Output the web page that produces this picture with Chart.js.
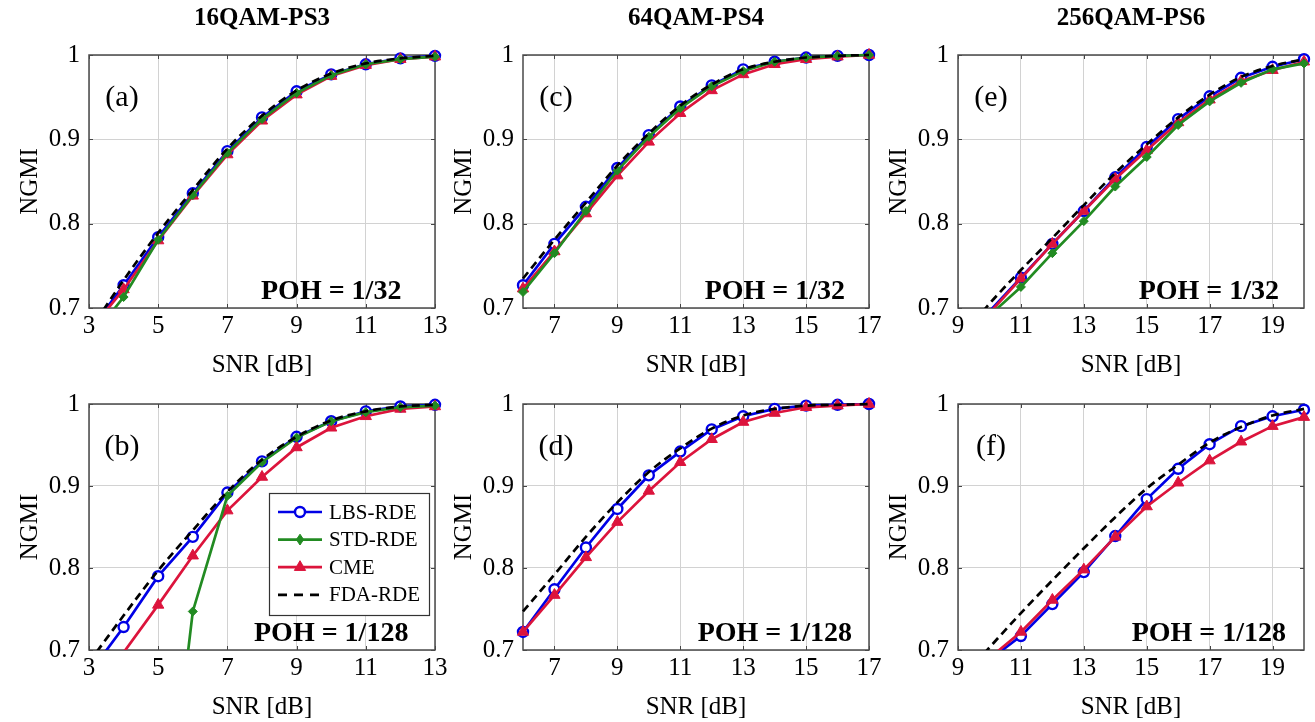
<!DOCTYPE html>
<html>
<head>
<meta charset="utf-8">
<script src="https://cdn.jsdelivr.net/npm/chart.js@4.4.1/dist/chart.umd.min.js"></script>
<style>
html,body{margin:0;padding:0;background:#fff;overflow:hidden;width:1315px;height:722px;}
canvas{position:absolute;}
</style>
</head>
<body>
<script>
// ---------------- DATA ----------------
const columnTitles = ['16QAM-PS3', '64QAM-PS4', '256QAM-PS6'];
const panelLabels = ['(a)', '(b)', '(c)', '(d)', '(e)', '(f)'];
const pohLabels = ['POH = 1/32', 'POH = 1/128'];
const seriesNames = ['LBS-RDE', 'STD-RDE', 'CME', 'FDA-RDE'];
const xAxisTitle = 'SNR [dB]';
const yAxisTitle = 'NGMI';
const yTicks = [0.7, 0.8, 0.9, 1];
const yTickLabels = ['0.7', '0.8', '0.9', '1'];
const xTicks16 = [3, 5, 7, 9, 11, 13];
const xTicks64 = [7, 9, 11, 13, 15, 17];
const xTicks256 = [9, 11, 13, 15, 17, 19];

const snr16 = [3, 4, 5, 6, 7, 8, 9, 10, 11, 12, 13];
const snr64 = [6, 7, 8, 9, 10, 11, 12, 13, 14, 15, 16, 17];
const snr256 = [9, 10, 11, 12, 13, 14, 15, 16, 17, 18, 19, 20];

// (a) 16QAM, POH 1/32
const lbsA = [0.672, 0.727, 0.784, 0.836, 0.886, 0.926, 0.957, 0.977, 0.989, 0.996, 0.999];
const stdA = [0.661, 0.713, 0.781, 0.834, 0.884, 0.924, 0.955, 0.976, 0.989, 0.995, 0.998];
const cmeA = [0.672, 0.722, 0.780, 0.833, 0.882, 0.922, 0.953, 0.975, 0.988, 0.995, 0.998];
const fdaA = [0.672, 0.733, 0.789, 0.840, 0.889, 0.928, 0.958, 0.978, 0.990, 0.996, 0.999];
// (b) 16QAM, POH 1/128
const lbsB = [0.671, 0.728, 0.790, 0.838, 0.892, 0.930, 0.960, 0.979, 0.991, 0.997, 0.999];
const stdB = [null, null, 0.390, 0.747, 0.888, 0.929, 0.959, 0.979, 0.990, 0.996, 0.998];
const cmeB = [0.630, 0.697, 0.755, 0.815, 0.870, 0.911, 0.947, 0.971, 0.985, 0.994, 0.997];
const fdaB = [0.685, 0.742, 0.797, 0.846, 0.893, 0.932, 0.960, 0.980, 0.991, 0.997, 0.999];
// (c) 64QAM, POH 1/32
const lbsC = [0.727, 0.776, 0.820, 0.866, 0.905, 0.939, 0.964, 0.983, 0.992, 0.997, 0.999, 1.000];
const stdC = [0.719, 0.765, 0.815, 0.863, 0.903, 0.937, 0.963, 0.981, 0.992, 0.997, 0.999, 1.000];
const cmeC = [0.723, 0.767, 0.812, 0.857, 0.897, 0.931, 0.958, 0.977, 0.989, 0.995, 0.998, 1.000];
const fdaC = [0.735, 0.781, 0.825, 0.869, 0.907, 0.940, 0.965, 0.983, 0.992, 0.997, 0.999, 1.000];
// (d) 64QAM, POH 1/128
const lbsD = [0.722, 0.774, 0.825, 0.872, 0.913, 0.942, 0.969, 0.985, 0.994, 0.998, 0.999, 1.000];
const cmeD = [0.722, 0.767, 0.813, 0.856, 0.894, 0.929, 0.957, 0.978, 0.989, 0.996, 0.998, 1.000];
const fdaD = [0.747, 0.792, 0.838, 0.880, 0.917, 0.946, 0.970, 0.986, 0.994, 0.998, 0.999, 1.000];
// (e) 256QAM, POH 1/32
const lbsE = [0.650, 0.696, 0.736, 0.776, 0.815, 0.855, 0.891, 0.924, 0.951, 0.973, 0.986, 0.995];
const stdE = [0.645, 0.691, 0.725, 0.765, 0.803, 0.844, 0.879, 0.917, 0.945, 0.967, 0.983, 0.990];
const cmeE = [0.650, 0.694, 0.735, 0.776, 0.815, 0.853, 0.887, 0.920, 0.947, 0.969, 0.982, 0.992];
const fdaE = [0.660, 0.705, 0.745, 0.783, 0.822, 0.860, 0.894, 0.926, 0.953, 0.974, 0.987, 0.995];
// (f) 256QAM, POH 1/128
const lbsF = [0.650, 0.688, 0.717, 0.756, 0.795, 0.839, 0.884, 0.921, 0.951, 0.973, 0.985, 0.993];
const cmeF = [0.650, 0.690, 0.722, 0.761, 0.798, 0.838, 0.875, 0.904, 0.931, 0.954, 0.973, 0.984];
const fdaF = [0.660, 0.703, 0.745, 0.785, 0.824, 0.862, 0.897, 0.926, 0.953, 0.972, 0.986, 0.994];

// ---------------- STYLE / LAYOUT ----------------
const FONT = '"Liberation Serif","Times New Roman","DejaVu Serif",serif';
const COL_LEFT = [0, 434, 869];
const ROW_TOP = [0, 380];
const ROW_H = [380, 342];
const PAD_TOP = [55, 17];
const CANVAS_W = 460;
const POH_FRAC = [0.70, 0.728, 0.725];
const Y_MIN = 0.7, Y_MAX = 1;

const seriesStyles = [
  {color: 'rgb(0,0,230)', point: 'circle', radius: 5, bw: 2.7, pbw: 2.4, fill: '#ffffff', dash: [], order: 3},
  {color: 'rgb(34,139,34)', point: 'rectRot', radius: 4.5, bw: 2.7, pbw: 1, fill: 'rgb(34,139,34)', dash: [], order: 1},
  {color: 'rgb(220,20,60)', point: 'triangle', radius: 6.5, bw: 2.7, pbw: 1, fill: 'rgb(220,20,60)', dash: [], order: 2},
  {color: '#000000', point: false, radius: 0, bw: 2.7, pbw: 0, fill: '#000', dash: [8, 5], order: 0}
];

const panels = [
  {col: 0, row: 0, snr: snr16, xMin: 3, xMax: 13, xTicks: xTicks16, series: [lbsA, stdA, cmeA, fdaA], label: panelLabels[0], poh: pohLabels[0], title: columnTitles[0], legend: false},
  {col: 0, row: 1, snr: snr16, xMin: 3, xMax: 13, xTicks: xTicks16, series: [lbsB, stdB, cmeB, fdaB], label: panelLabels[1], poh: pohLabels[1], title: null, legend: true},
  {col: 1, row: 0, snr: snr64, xMin: 6, xMax: 17, xTicks: xTicks64, series: [lbsC, stdC, cmeC, fdaC], label: panelLabels[2], poh: pohLabels[0], title: columnTitles[1], legend: false},
  {col: 1, row: 1, snr: snr64, xMin: 6, xMax: 17, xTicks: xTicks64, series: [lbsD, null, cmeD, fdaD], label: panelLabels[3], poh: pohLabels[1], title: null, legend: false},
  {col: 2, row: 0, snr: snr256, xMin: 9, xMax: 20, xTicks: xTicks256, series: [lbsE, stdE, cmeE, fdaE], label: panelLabels[4], poh: pohLabels[0], title: columnTitles[2], legend: false},
  {col: 2, row: 1, snr: snr256, xMin: 9, xMax: 20, xTicks: xTicks256, series: [lbsF, null, cmeF, fdaF], label: panelLabels[5], poh: pohLabels[1], title: null, legend: false}
];

// ---------------- PLUGIN ----------------
function drawMarker(ctx, kind, x, y, st) {
  ctx.save();
  ctx.fillStyle = st.fill; ctx.strokeStyle = st.color; ctx.lineWidth = st.pbw;
  ctx.beginPath();
  if (kind === 'circle') {
    ctx.arc(x, y, st.radius, 0, Math.PI * 2);
  } else if (kind === 'rectRot') {
    ctx.moveTo(x, y - st.radius * 1.2); ctx.lineTo(x + st.radius * 0.8, y);
    ctx.lineTo(x, y + st.radius * 1.2); ctx.lineTo(x - st.radius * 0.8, y); ctx.closePath();
  } else if (kind === 'triangle') {
    const r = st.radius;
    ctx.moveTo(x, y - r); ctx.lineTo(x + r * 0.866, y + r * 0.5); ctx.lineTo(x - r * 0.866, y + r * 0.5); ctx.closePath();
  }
  ctx.fill(); ctx.stroke();
  ctx.restore();
}

const decor = {
  id: 'decor',
  beforeDatasetsDraw(chart, args, o) {
    const {ctx, chartArea: a} = chart;
    const xs = chart.scales.x, ys = chart.scales.y;
    ctx.save();
    ctx.strokeStyle = '#444';
    ctx.lineWidth = 1;
    ctx.beginPath();
    o.xTicks.forEach(v => {
      const px = Math.round(xs.getPixelForValue(v)) + 0.5;
      ctx.moveTo(px, a.bottom); ctx.lineTo(px, a.bottom - 4);
      ctx.moveTo(px, a.top); ctx.lineTo(px, a.top + 4);
    });
    yTicks.forEach(v => {
      const py = Math.round(ys.getPixelForValue(v)) + 0.5;
      ctx.moveTo(a.left, py); ctx.lineTo(a.left + 4, py);
      ctx.moveTo(a.right, py); ctx.lineTo(a.right - 4, py);
    });
    ctx.stroke();
    ctx.strokeStyle = '#4a4a4a';
    ctx.lineWidth = 1.5;
    ctx.strokeRect(a.left, a.top, a.right - a.left, a.bottom - a.top);
    ctx.restore();
  },
  afterDatasetsDraw(chart, args, o) {
    const {ctx, chartArea: a} = chart;
    ctx.save();
    ctx.fillStyle = '#000';
    ctx.font = '30px ' + FONT;
    ctx.textAlign = 'center'; ctx.textBaseline = 'middle';
    ctx.fillText(o.label, a.left + 33, a.top + 43);
    ctx.font = 'bold 28px ' + FONT;
    ctx.fillText(o.poh, a.left + o.pohFrac * (a.right - a.left), a.bottom - 16);
    if (o.title) {
      ctx.font = 'bold 25px ' + FONT;
      ctx.fillText(o.title, (a.left + a.right) / 2, 19);
    }
    if (o.legend) {
      const bx = a.left + 180, by = a.top + 89, bw = 160, bh = 122;
      ctx.fillStyle = '#fff';
      ctx.fillRect(bx, by, bw, bh);
      ctx.strokeStyle = '#333'; ctx.lineWidth = 1.2;
      ctx.strokeRect(bx + 0.5, by + 0.5, bw, bh);
      seriesNames.forEach((name, i) => {
        const st = seriesStyles[i];
        const cy = by + 19 + i * 27.6;
        ctx.save();
        ctx.strokeStyle = st.color; ctx.lineWidth = st.bw;
        ctx.setLineDash(i === 3 ? [9, 7] : []);
        ctx.beginPath(); ctx.moveTo(bx + 9, cy); ctx.lineTo(bx + 53, cy); ctx.stroke();
        ctx.restore();
        if (st.point) drawMarker(ctx, st.point, bx + 31, cy, st);
        ctx.fillStyle = '#000';
        ctx.font = '21px ' + FONT;
        ctx.textAlign = 'left'; ctx.textBaseline = 'middle';
        ctx.fillText(name, bx + 60, cy + 1);
      });
    }
    ctx.restore();
  }
};

// ---------------- CHARTS ----------------
panels.forEach((p) => {
  const cv = document.createElement('canvas');
  cv.width = CANVAS_W; cv.height = ROW_H[p.row];
  cv.style.left = COL_LEFT[p.col] + 'px';
  cv.style.top = ROW_TOP[p.row] + 'px';
  document.body.appendChild(cv);

  const datasets = [];
  p.series.forEach((vals, i) => {
    if (!vals) return;
    const st = seriesStyles[i];
    datasets.push({
      label: seriesNames[i],
      data: p.snr.map((x, k) => ({x: x, y: vals[k]})),
      borderColor: st.color,
      backgroundColor: st.fill,
      borderWidth: st.bw,
      borderDash: st.dash,
      pointStyle: st.point,
      // markers lying outside the axis range are not drawn (as in the original plot)
      pointRadius: (c) => (c.raw && c.raw.y !== null && c.raw.y < Y_MIN) ? 0 : st.radius,
      pointBorderWidth: st.pbw,
      pointBorderColor: st.color,
      pointBackgroundColor: st.fill,
      pointHoverRadius: st.radius,
      tension: 0,
      cubicInterpolationMode: i === 3 ? 'monotone' : 'default',
      spanGaps: false,
      order: st.order,
      clip: {left: 10, top: 10, right: 10, bottom: 0}
    });
  });

  new Chart(cv, {
    type: 'line',
    data: {datasets},
    plugins: [decor],
    options: {
      responsive: false,
      animation: false,
      devicePixelRatio: 1,
      events: [],
      layout: {padding: {left: 0, right: 25, top: PAD_TOP[p.row], bottom: 0}},
      plugins: {
        legend: {display: false},
        tooltip: {enabled: false},
        decor: {label: p.label, poh: p.poh, pohFrac: POH_FRAC[p.col], title: p.title, legend: p.legend, xTicks: p.xTicks}
      },
      scales: {
        x: {
          type: 'linear', min: p.xMin, max: p.xMax,
          afterBuildTicks: s => { s.ticks = p.xTicks.map(v => ({value: v})); },
          afterFit: s => { s.height = 72; },
          grid: {color: '#d2d2d2', lineWidth: 1, drawTicks: false},
          border: {display: false},
          ticks: {padding: 3, color: '#000', font: {family: FONT, size: 25}, maxRotation: 0, autoSkip: false,
                  callback: (v) => String(v)},
          title: {display: true, text: xAxisTitle, color: '#000', font: {family: FONT, size: 25}, padding: {top: 0, bottom: 0}}
        },
        y: {
          type: 'linear', min: Y_MIN, max: Y_MAX,
          afterBuildTicks: s => { s.ticks = yTicks.map(v => ({value: v})); },
          afterFit: s => { s.width = 89; },
          grid: {color: '#d2d2d2', lineWidth: 1, drawTicks: false},
          border: {display: false},
          ticks: {padding: 9, color: '#000', font: {family: FONT, size: 25}, autoSkip: false,
                  callback: (v, i) => yTickLabels[i]},
          title: {display: true, text: yAxisTitle, color: '#000', font: {family: FONT, size: 25}, padding: {top: 15, bottom: 0}}
        }
      }
    }
  });
});
</script>
</body>
</html>
